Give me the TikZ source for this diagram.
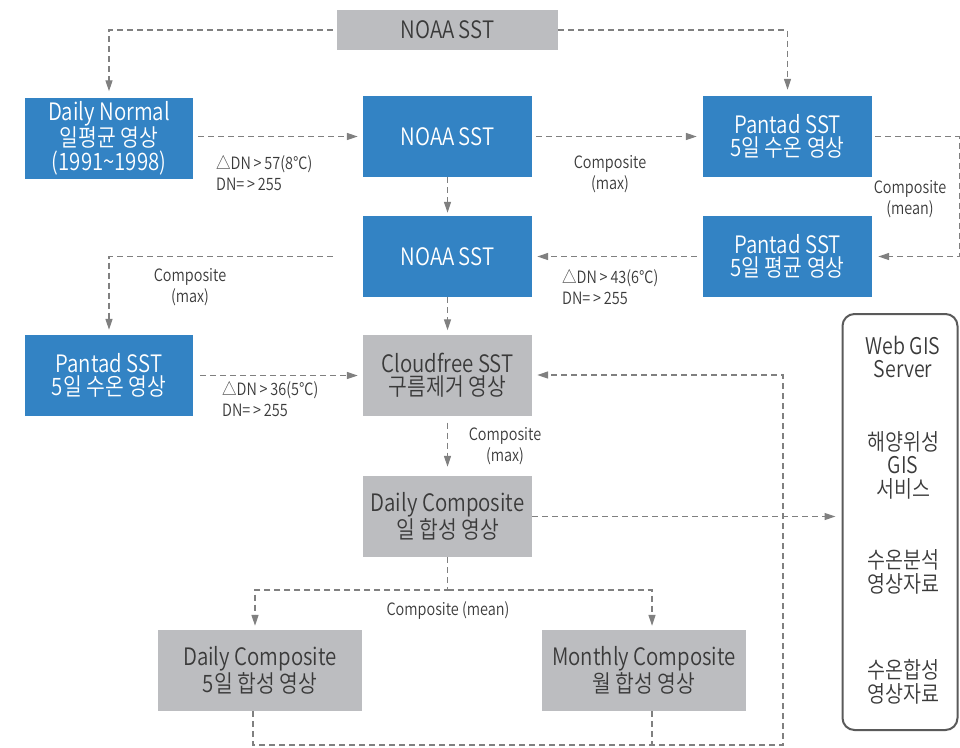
\documentclass[tikz,border=0pt]{standalone}
\usepackage{fontspec}
\setmainfont{Noto Sans CJK KR DemiLight}[FakeStretch=0.85]
\usepackage{tikz}
\usetikzlibrary{arrows.meta}
\definecolor{boxblue}{RGB}{51,131,196}
\definecolor{boxgray}{RGB}{188,189,192}
\definecolor{linegray}{RGB}{128,128,128}
\definecolor{txtgray}{RGB}{58,58,58}
\definecolor{servergray}{RGB}{90,90,90}
\tikzset{>={Triangle[length=11pt,width=7pt]}}
\tikzset{
  bluebox/.style={fill=boxblue, text=white, minimum width=169pt, minimum height=81pt,
    align=center, inner sep=0pt, font=\fontsize{24}{23.5}\selectfont},
  graybox/.style={bluebox, fill=boxgray, text=txtgray},
  flow/.style={->, linegray, line width=1.2pt, dash pattern=on 6pt off 4pt},
  lab/.style={text=txtgray, align=center, inner sep=0pt, font=\fontsize{17}{21}\selectfont},
  gislab/.style={lab, font=\fontsize{23}{23.5}\selectfont}
}

\begin{document}
\begin{tikzpicture}[x=1pt, y=-1pt]
    \useasboundingbox (0,0) rectangle (960,747);

    %source
    \node[graybox, minimum width=221pt, minimum height=40pt] (src) at (447.5,30) {NOAA SST};

    %first row
    \node[bluebox, minimum width=168pt] (normal) at (109,138) {Daily Normal\\일평균 영상\\(1991\textasciitilde1998)};
    \node[bluebox] (noaa1) at (447.5,136.5) {NOAA SST};
    \node[bluebox] (pantad1) at (787.5,136.5) {Pantad SST\\5일 수온 영상};

    %second row
    \node[bluebox] (noaa2) at (447.5,256.5) {NOAA SST};
    \node[bluebox] (pantad2) at (787.5,256.5) {Pantad SST\\5일 평균 영상};

    %third row
    \node[bluebox, minimum width=168pt] (pantad3) at (109,375.5) {Pantad SST\\5일 수온 영상};
    \node[graybox] (cloud) at (447.5,375) {Cloudfree SST\\구름제거 영상};

    %composites
    \node[graybox] (daily) at (447.5,516.5) {Daily Composite\\일 합성 영상};
    \node[graybox, minimum width=204pt] (daily5) at (260,670.5) {Daily Composite\\5일 합성 영상};
    \node[graybox, minimum width=204pt] (monthly) at (644,670.5) {Monthly Composite\\월 합성 영상};

    %server
    \node[draw=servergray, line width=2pt, rounded corners=12pt, minimum width=115pt,
      minimum height=416pt] (gis) at (900,522) {};
    \node[gislab] (gis1) at (903,357) {Web GIS\\Server};
    \node[gislab] (gis2) at (903,465) {해양위성\\GIS\\서비스};
    \node[gislab] (gis3) at (903,572) {수온분석\\영상자료};
    \node[gislab] (gis4) at (903,682) {수온합성\\영상자료};

    %labels
    \node[lab, align=left, anchor=west] (l1) at (216,173) {△DN\,>\,57(8℃)\\DN=\,>\,255};
    \node[lab] (l2) at (610,174) {Composite\\(max)};
    \node[lab] (l3) at (910,199) {Composite\\(mean)};
    \node[lab, align=left, anchor=west] (l4) at (562,287) {△DN\,>\,43(6℃)\\DN=\,>\,255};
    \node[lab] (l5) at (190,287) {Composite\\(max)};
    \node[lab, align=left, anchor=west] (l6) at (222,399) {△DN\,>\,36(5℃)\\DN=\,>\,255};
    \node[lab] (l7) at (505,446) {Composite\\(max)};
    \node[lab] (l8) at (448,611) {Composite (mean)};

    %arrows from source
    \draw[flow, shorten <=4pt, shorten >=6pt] (src.west) -| (normal.north);
    \draw[flow, shorten >=6pt] (src.east) -| (pantad1.north);

    %first row arrows
    \draw[flow, shorten <=5pt, shorten >=5pt] (normal.east |- noaa1) -- (noaa1);
    \draw[flow, shorten <=4pt, shorten >=6pt] (noaa1) -- (pantad1);
    \draw[flow, shorten >=3pt] (noaa1) -- (noaa2);
    \draw[flow, shorten <=3pt, shorten >=6pt] (pantad1.east) -- ++(87,0) |- (pantad2.east);
    \draw[flow, shorten <=6pt, shorten >=5pt] (pantad2) -- (noaa2);

    %second row arrows
    \draw[flow, shorten <=30pt, shorten >=5pt] (noaa2.west) -| (pantad3.north);
    \draw[flow, shorten >=4pt] (noaa2) -- (cloud);
    \draw[flow, shorten <=7pt, shorten >=5pt] (pantad3.east) -- (pantad3.east -| cloud.west);
    \draw[flow, shorten <=7pt, shorten >=9pt] (cloud) -- (daily);

    %daily composite arrows
    \draw[flow, shorten >=6pt] (daily.east) -- (daily.east -| gis.west);
    \coordinate (split) at (447.5,590);
    \draw[flow, shorten >=4pt] (daily.south) -- (split) -| ([xshift=-5pt]daily5.north);
    \draw[flow, shorten >=4pt] (split) -| ([xshift=8pt]monthly.north);

    %feedback to cloudfree
    \coordinate (back) at (783,745);
    \draw[flow, shorten >=5pt] ([xshift=-7pt]daily5.south) |- (back) |- (cloud.east);
    \draw[flow, -] ([xshift=8pt]monthly.south) -- ([xshift=8pt]monthly.south |- back);
\end{tikzpicture}
\end{document}
